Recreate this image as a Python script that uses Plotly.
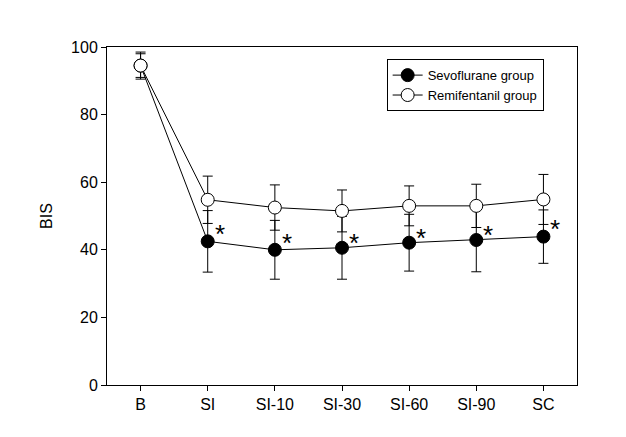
import plotly.graph_objects as go

categories = ["B", "SI", "SI-10", "SI-30", "SI-60", "SI-90", "SC"]
sevo_mean = [94.5, 42.5, 40.0, 40.6, 42.1, 42.9, 43.9]
sevo_sd = [4.0, 9.1, 8.7, 9.3, 8.4, 9.4, 7.9]
remi_mean = [94.5, 54.8, 52.5, 51.5, 53.0, 53.0, 54.9]
remi_sd = [3.5, 7.0, 6.7, 6.2, 5.9, 6.4, 7.4]
asterisk_cats = ["SI", "SI-10", "SI-30", "SI-60", "SI-90", "SC"]
asterisk_y = [46.4, 43.8, 43.9, 45.3, 46.1, 47.9]
y_ticks = [0, 20, 40, 60, 80, 100]

font = "Liberation Sans, Arial, sans-serif"

fig = go.Figure()
fig.add_trace(go.Scatter(
    x=categories, y=sevo_mean, name="Sevoflurane group",
    mode="lines+markers",
    line=dict(color="black", width=1),
    marker=dict(color="black", size=13, line=dict(color="black", width=1)),
    error_y=dict(type="data", array=sevo_sd, visible=True, color="black",
                 thickness=1, width=5),
))
fig.add_trace(go.Scatter(
    x=categories, y=remi_mean, name="Remifentanil group",
    mode="lines+markers",
    line=dict(color="black", width=1),
    marker=dict(color="white", size=13, line=dict(color="black", width=1)),
    error_y=dict(type="data", array=remi_sd, visible=True, color="black",
                 thickness=1, width=5),
))

for c, yv in zip(asterisk_cats, asterisk_y):
    fig.add_annotation(x=c, y=yv, text="*", showarrow=False, xshift=12,
                       yshift=-6, font=dict(family=font, size=26, color="black"))

fig.update_layout(
    width=626, height=437,
    margin=dict(l=99, r=57, t=39, b=60),
    paper_bgcolor="white", plot_bgcolor="white",
    font=dict(family=font, size=16, color="black"),
    showlegend=True,
    legend=dict(x=0.595, y=0.964, xanchor="left", yanchor="top",
                bordercolor="black", borderwidth=1, bgcolor="white",
                font=dict(family=font, size=13, color="black"),
                itemwidth=30, tracegroupgap=0),
)
fig.update_xaxes(
    type="category", categoryorder="array", categoryarray=categories,
    range=[-0.5, 6.5], showline=True, linecolor="black", linewidth=1,
    mirror=True, ticks="outside", ticklen=5, tickcolor="black",
    showgrid=False, zeroline=False, tickfont=dict(size=16),
)
fig.update_yaxes(
    range=[0, 100], tickvals=y_ticks, showline=True, linecolor="black",
    linewidth=1, mirror=True, ticks="outside", ticklen=5, tickcolor="black",
    showgrid=False, zeroline=False, tickfont=dict(size=16),
    title=dict(text="BIS", font=dict(size=16), standoff=14),
)

fig.write_html("out.html")
